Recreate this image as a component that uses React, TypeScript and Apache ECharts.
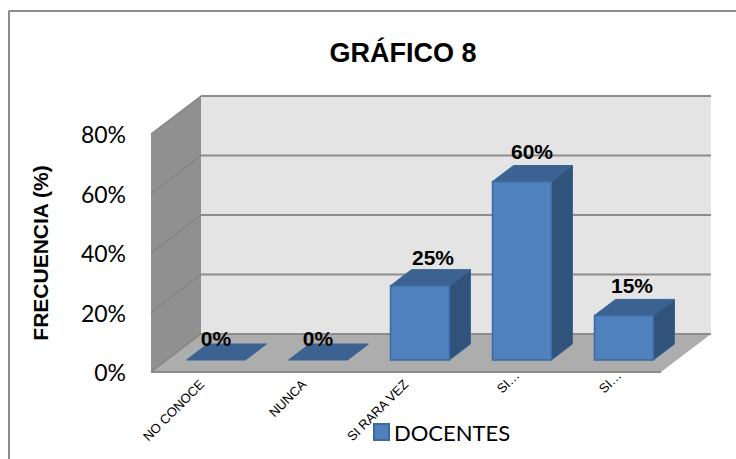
import React, { useEffect, useRef } from "react";
import * as echarts from "echarts";

const categories = ["NO CONOCE", "NUNCA", "SI RARA VEZ", "SI…", "SI…"];
const docentes = [0, 0, 25, 60, 15];
const yTicks = [0, 20, 40, 60, 80];
const labelShiftX = [0, 0, 13, 10, 8];
const labelShiftY = [6, 6, 12, 14, 14];

const WALL_DX = 50;
const WALL_DY = -38;
const BAR_DX = 21;
const BAR_DY = -16;
const BAR_INSET_X = 14;
const BAR_INSET_Y = -12;
const BAR_WIDTH = 59;

const wallsRender = (_: any, api: any) => {
  const [x0, y0] = api.coord([0, 0]);
  const band = api.size([1, 0])[0];
  const left = x0 - band / 2;
  const right = left + band * 5;
  const top = api.coord([0, 80])[1];
  const poly = (points: number[][], fill: string) => ({
    type: "polygon",
    shape: { points },
    style: { fill, stroke: "none" },
  });
  return {
    type: "group",
    children: [
      poly([[left + WALL_DX, top + WALL_DY], [right + WALL_DX, top + WALL_DY], [right + WALL_DX, y0 + WALL_DY], [left + WALL_DX, y0 + WALL_DY]], "#e4e4e4"),
      poly([[left, top], [left + WALL_DX, top + WALL_DY], [left + WALL_DX, y0 + WALL_DY], [left, y0]], "#909090"),
      poly([[left, y0], [left + WALL_DX, y0 + WALL_DY], [right + WALL_DX, y0 + WALL_DY], [right, y0]], "#adadad"),
    ],
  };
};

const gridRender = (_: any, api: any) => {
  const v = api.value(0);
  const [x0] = api.coord([0, 0]);
  const y = api.coord([0, v])[1];
  const band = api.size([1, 0])[0];
  const left = x0 - band / 2;
  const right = left + band * 5;
  const children: any[] = [
    { type: "line", shape: { x1: left, y1: y, x2: left + WALL_DX, y2: y + WALL_DY }, style: { stroke: "#838383", lineWidth: 1.2 } },
    { type: "line", shape: { x1: left + WALL_DX, y1: y + WALL_DY, x2: right + WALL_DX, y2: y + WALL_DY }, style: { stroke: "#8c8c8c", lineWidth: 1.8 } },
  ];
  if (v === 0) {
    children.push({ type: "line", shape: { x1: left, y1: y, x2: right, y2: y }, style: { stroke: "#8a8a8a", lineWidth: 2 } });
  }
  return { type: "group", children };
};

const barRender = (params: any, api: any) => {
  const i = api.value(0);
  const val = api.value(1);
  const cx = api.coord([i, 0])[0];
  const y0 = api.coord([i, 0])[1] + BAR_INSET_Y;
  const h = api.coord([i, 0])[1] - api.coord([i, val])[1];
  const xl = cx - BAR_WIDTH / 2 + BAR_INSET_X;
  const xr = xl + BAR_WIDTH;
  const yt = y0 - h;
  const poly = (points: number[][], fill: string) => ({
    type: "polygon",
    shape: { points },
    style: { fill, stroke: "#3a6596", lineWidth: 1 },
  });
  const children: any[] = [
    poly([[xl, yt], [xl + BAR_DX, yt + BAR_DY], [xr + BAR_DX, yt + BAR_DY], [xr, yt]], "#3c6291"),
  ];
  if (val > 0) {
    children.push(poly([[xr, yt], [xr + BAR_DX, yt + BAR_DY], [xr + BAR_DX, y0 + BAR_DY], [xr, y0]], "#31527b"));
    children.push({
      type: "rect",
      shape: { x: xl, y: yt, width: BAR_WIDTH, height: h },
      style: { fill: "#4f81bd", stroke: "#3d6a9f", lineWidth: 1.5 },
    });
  }
  children.push({
    type: "text",
    x: (xl + xr) / 2 + labelShiftX[i],
    y: yt + BAR_DY - labelShiftY[i],
    style: {
      text: `${val}%`,
      fill: "#000",
      font: 'bold 21px "Liberation Sans"',
      align: "center",
      verticalAlign: "middle",
    },
  });
  return { type: "group", children };
};

export default function App() {
  const ref = useRef<HTMLDivElement>(null);
  useEffect(() => {
    const chart = echarts.init(ref.current!, undefined, { renderer: "svg" });
    chart.setOption({
      animation: false,
      backgroundColor: "#ffffff",
      title: {
        text: "GRÁFICO 8",
        left: 398,
        top: 34,
        textAlign: "center",
        textStyle: { fontFamily: "Liberation Sans", fontWeight: "bold", fontSize: 27, color: "#000" },
      },
      legend: {
        left: 368,
        top: 416,
        data: ["DOCENTES"],
        icon: "rect",
        itemWidth: 15,
        itemHeight: 16,
        itemGap: 0,
        textStyle: { fontFamily: "Lato", fontSize: 22, color: "#000", padding: [0, 0, 0, 0] },
      },
      grid: { left: 151, right: 75, top: 134, bottom: 87, containLabel: false },
      xAxis: {
        type: "category",
        data: categories.map((c) => (c === "SI…" ? { value: c, textStyle: { align: "center" } } : c)),
        axisLine: { show: false },
        axisTick: { show: false },
        axisLabel: {
          interval: 0,
          rotate: 45,
          margin: 10,
          fontFamily: "Liberation Sans",
          fontSize: 13,
          color: "#000",
        },
      },
      yAxis: {
        type: "value",
        min: 0,
        max: 80,
        interval: 20,
        name: "FRECUENCIA (%)",
        nameLocation: "middle",
        nameGap: 100,
        nameRotate: 90,
        nameTextStyle: { fontFamily: "Liberation Sans", fontWeight: "bold", fontSize: 21, color: "#000" },
        axisLine: { show: false },
        axisTick: { show: false },
        splitLine: { show: false },
        axisLabel: {
          margin: 25,
          padding: [4, 0, 0, 0],
          formatter: "{value}%",
          fontFamily: "Lato",
          fontSize: 23,
          color: "#000",
        },
      },
      graphic: [
        { type: "line", shape: { x1: 8.5, y1: 11, x2: 736, y2: 11 }, style: { stroke: "#8c8c8c", lineWidth: 2 } },
        { type: "line", shape: { x1: 9, y1: 11, x2: 9, y2: 459 }, style: { stroke: "#8c8c8c", lineWidth: 2 } },
      ],
      series: [
        { type: "custom", name: "paredes", silent: true, renderItem: wallsRender, data: [[0]], z: 1 },
        { type: "custom", name: "rejilla", silent: true, renderItem: gridRender, data: yTicks.map((t) => [t]), encode: { y: 0 }, z: 2 },
        {
          type: "custom",
          name: "DOCENTES",
          renderItem: barRender,
          data: docentes.map((v, i) => [i, v]),
          encode: { x: 0, y: 1 },
          itemStyle: { color: "#4f81bd", borderColor: "#3d6a9f", borderWidth: 1.5 },
          z: 3,
        },
      ],
    });
    return () => chart.dispose();
  }, []);
  return <div ref={ref} style={{ position: "absolute", left: 0, top: 0, width: 736, height: 459 }} />;
}
